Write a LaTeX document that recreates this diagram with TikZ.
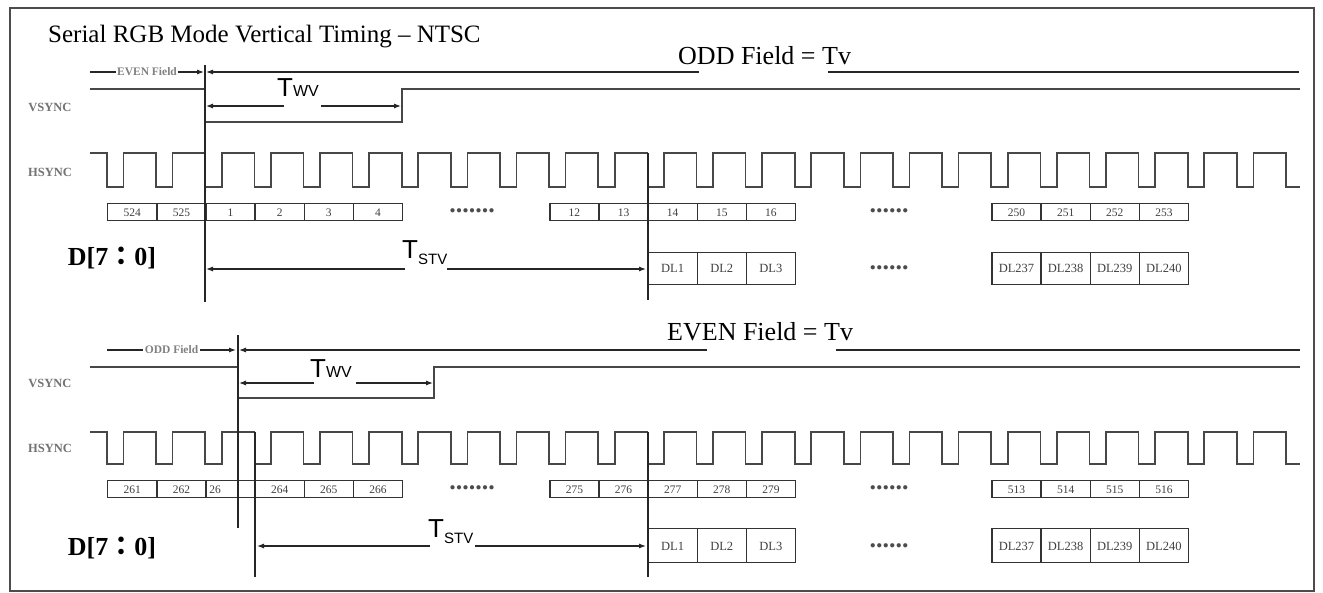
\documentclass[tikz,border=0pt]{standalone}
\usepackage{fontspec}
\setmainfont{Liberation Serif}
\newfontfamily\sansfnt{Liberation Sans}
\newfontfamily\cjk{Noto Sans CJK TC}
\usetikzlibrary{arrows.meta}
\begin{document}
\begin{tikzpicture}[x=1pt,y=-1pt,
  wave/.style={line width=1.6pt, draw=black!72},
  vline/.style={line width=1.2pt, draw=black!85},
  dim/.style={line width=1.1pt, draw=black!85},
  tipR/.style={-{Latex[length=7pt,width=5pt]}},
  tipL/.style={{Latex[length=7pt,width=5pt]}-},
  numbox/.style={draw=black!80, line width=1.4pt, minimum width=49.125pt, minimum height=17pt, inner sep=0pt, anchor=north west, font=\fontsize{11.5}{11.5}\selectfont, text=black!75, text height=8pt, text depth=0pt},
  dlbox/.style={numbox, font=\fontsize{12.5}{12.5}\selectfont, text height=8.6pt},
  sig/.style={font=\bfseries\fontsize{12.5}{12.5}\selectfont, text=black!55, inner sep=0pt},
  fieldlbl/.style={font=\bfseries\fontsize{11.5}{11.5}\selectfont, text=black!50, fill=white, inner sep=1.5pt},
  big/.style={font=\fontsize{26}{26}\selectfont, inner sep=0pt, anchor=base west},
  dlabel/.style={font=\bfseries\fontsize{26}{26}\selectfont, inner sep=0pt},
  tlbl/.style={font=\sansfnt, inner sep=0pt, anchor=base west},
  dots/.style={font=\bfseries\fontsize{26}{26}\selectfont, inner sep=0pt, text=black!70},
]
\useasboundingbox (0,0) rectangle (1323,593);
\fill[white] (0,0) rectangle (1323,593);
\draw[line width=1.6pt, black!70] (10,8) rectangle (1314,591);

\node[big, font=\fontsize{25}{25}\selectfont] (title) at (48,43) {Serial RGB Mode Vertical Timing – NTSC};

% ================= TOP =================
\node[sig] (vsyncT) at (50,107) {VSYNC};
\node[sig] (hsyncT) at (50,172) {HSYNC};
\node[dlabel] (dT) at (112,258) {D[7{\cjk ：}0]};

% field arrows
\coordinate (efA) at (90,72); \coordinate (efB) at (204,72);
\draw[dim,tipR] (efA) -- (efB) node[midway,fieldlbl] (evenlbl) {EVEN Field};
\coordinate (ofA) at (206,72); \coordinate (ofB) at (699,72);
\coordinate (ofC) at (828,72); \coordinate (ofD) at (1299,72);
\draw[dim,tipL] (ofA) -- (ofB);
\draw[dim] (ofC) -- (ofD);
\node[big] (oddtv) at (678,65) {ODD Field = Tv};

% vsync
\draw[wave] (90,89) -- (205,89) -- (205,122) -- (402,122) -- (402,89) -- (1300,89);
% twv
\coordinate (twvA) at (206,106); \coordinate (twvB) at (284,106);
\coordinate (twvC) at (321,106); \coordinate (twvD) at (401,106);
\draw[dim,tipL] (twvA) -- (twvB);
\draw[dim,tipR] (twvC) -- (twvD);
\node[tlbl] (twvT) at (277,97) {\fontsize{26}{26}\selectfont T\fontsize{16}{16}\selectfont WV};

% hsync
\draw[wave] (90,153) \foreach \k in {0,...,23} { -- ({107+49.125*\k},153) -- ({107+49.125*\k},187) -- ({123.5+49.125*\k},187) -- ({123.5+49.125*\k},153) } -- (1286,153) -- (1286,187) -- (1300,187);

% line number boxes
\foreach \lab [count=\i from 0] in {524,525,1,2,3,4}
  \node[numbox] (ta\i) at ({107+49.125*\i},203) {\lab};
\foreach \lab [count=\i from 9] in {12,13,14,15,16}
  \node[numbox] (ta\i) at ({107+49.125*\i},203) {\lab};
\foreach \lab [count=\i from 18] in {250,251,252,253}
  \node[numbox] (ta\i) at ({107+49.125*\i},203) {\lab};
\node[dots] (tdots1) at (472,211) {.......};
\node[dots] (tdots2) at (889,211) {......};

% DL boxes
\foreach \lab [count=\i from 11] in {DL1,DL2,DL3}
  \node[dlbox, minimum height=32pt] (td\i) at ({107+49.125*\i},252) {\lab};
\foreach \lab [count=\i from 18] in {DL237,DL238,DL239,DL240}
  \node[dlbox, minimum height=32pt] (td\i) at ({107+49.125*\i},252) {\lab};
\node[dots] (tdots3) at (889,268) {......};

% tstv
\coordinate (tsA) at (206,269); \coordinate (tsB) at (405,269);
\coordinate (tsC) at (447,269); \coordinate (tsD) at (646,269);
\draw[dim,tipL] (tsA) -- (tsB);
\draw[dim,tipR] (tsC) -- (tsD);
\node[tlbl] (tstvT) at (402,259) {\fontsize{26}{26}\selectfont T\fontsize{15}{15}\selectfont\raisebox{-6pt}{STV}};

% verticals
\draw[vline] (205,65) -- (205,302);
\draw[vline] (648,153) -- (648,300);

% ================= BOTTOM =================
\node[sig] (vsyncB) at (50,383) {VSYNC};
\node[sig] (hsyncB) at (50,448) {HSYNC};
\node[dlabel] (dB) at (112,548) {D[7{\cjk ：}0]};

\coordinate (bfA) at (107,350); \coordinate (bfB) at (236,350);
\draw[dim,tipR] (bfA) -- (bfB) node[midway,fieldlbl] (oddlbl) {ODD Field};
\coordinate (efA2) at (239,350); \coordinate (efB2) at (707,350);
\coordinate (efC2) at (836,350); \coordinate (efD2) at (1300,350);
\draw[dim,tipL] (efA2) -- (efB2);
\draw[dim] (efC2) -- (efD2);
\node[big] (eventv) at (667,341) {EVEN Field = Tv};

\draw[wave] (90,367) -- (238,367) -- (238,398) -- (434,398) -- (434,367) -- (1300,367);
\coordinate (bwvA) at (239,383); \coordinate (bwvB) at (314,383);
\coordinate (bwvC) at (356,383); \coordinate (bwvD) at (433,383);
\draw[dim,tipL] (bwvA) -- (bwvB);
\draw[dim,tipR] (bwvC) -- (bwvD);
\node[tlbl] (bwvT) at (310,378) {\fontsize{26}{26}\selectfont T\fontsize{16}{16}\selectfont WV};

\draw[wave] (90,432) \foreach \k in {0,...,23} { -- ({107+49.125*\k},432) -- ({107+49.125*\k},464) -- ({123.5+49.125*\k},464) -- ({123.5+49.125*\k},432) } -- (1286,432) -- (1286,464) -- (1300,464);

\foreach \lab [count=\i from 0] in {261,262}
  \node[numbox] (ba\i) at ({107+49.125*\i},480) {\lab};
\node[numbox] (ba2) at ({107+49.125*2},480) {};
\node[font=\fontsize{11.5}{11.5}\selectfont, text=black!75, inner sep=0pt, anchor=west, text height=8pt, text depth=0pt] (ba2t) at ([xshift=4pt]ba2.west) {26};
\foreach \lab [count=\i from 3] in {264,265,266}
  \node[numbox] (ba\i) at ({107+49.125*\i},480) {\lab};
\foreach \lab [count=\i from 9] in {275,276,277,278,279}
  \node[numbox] (ba\i) at ({107+49.125*\i},480) {\lab};
\foreach \lab [count=\i from 18] in {513,514,515,516}
  \node[numbox] (ba\i) at ({107+49.125*\i},480) {\lab};
\node[dots] (bdots1) at (472,488) {.......};
\node[dots] (bdots2) at (889,488) {......};

\foreach \lab [count=\i from 11] in {DL1,DL2,DL3}
  \node[dlbox, minimum height=34pt] (bd\i) at ({107+49.125*\i},528) {\lab};
\foreach \lab [count=\i from 18] in {DL237,DL238,DL239,DL240}
  \node[dlbox, minimum height=34pt] (bd\i) at ({107+49.125*\i},528) {\lab};
\node[dots] (bdots3) at (889,546) {......};

\coordinate (bsA) at (257,546); \coordinate (bsB) at (430,546);
\coordinate (bsC) at (475,546); \coordinate (bsD) at (646,546);
\draw[dim,tipL] (bsA) -- (bsB);
\draw[dim,tipR] (bsC) -- (bsD);
\node[tlbl] (bstvT) at (428,537) {\fontsize{26}{26}\selectfont T\fontsize{15}{15}\selectfont\raisebox{-6pt}{STV}};

\draw[vline] (238,335) -- (238,528);
\draw[vline] (255,432) -- (255,577);
\draw[vline] (648,432) -- (648,577);
\end{tikzpicture}
\end{document}
